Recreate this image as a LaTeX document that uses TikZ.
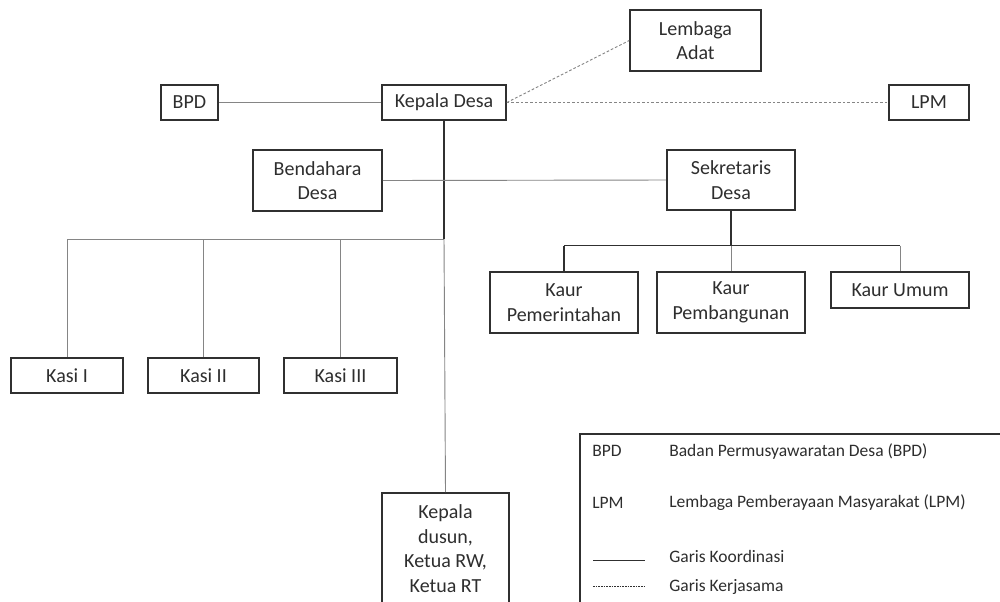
\documentclass[tikz,border=0pt]{standalone}
\usepackage{fontspec}
\setmainfont{Carlito}
\definecolor{txt}{HTML}{2E2E2E}
\definecolor{bord}{HTML}{303030}
\definecolor{lgray}{HTML}{858585}
\begin{document}
\begin{tikzpicture}[x=0.6pt,y=-0.6pt,
  box/.style={draw=bord,line width=0.95pt,fill=white,inner sep=0pt,align=center,text=txt,
    font=\fontsize{12}{14.7}\selectfont},
  lnthin/.style={draw=lgray,line width=0.55pt},
  lnthick/.style={draw=bord,line width=0.9pt},
  dashln/.style={draw=lgray,line width=0.55pt,dash pattern=on 1.6pt off 1.2pt},
  leg/.style={anchor=west,inner sep=0pt,text=txt,font=\fontsize{10.5}{12}\selectfont}]
\useasboundingbox (0,0) rectangle (1000,601);
\fill[white] (0,0) rectangle (1000,601);
% nodes
\node[box,minimum width=34.2pt,minimum height=21pt] (bpd) at (189.5,102.5) {BPD};
\node[box,minimum width=74.4pt,minimum height=21pt] (kades) at (444,102.5) {Kepala Desa};
\node[box,minimum width=78.6pt,minimum height=36.6pt] (adat) at (695.5,40.5) {Lembaga\\Adat};
\node[box,minimum width=48pt,minimum height=21pt] (lpm) at (929,102.5) {LPM};
\node[box,minimum width=77.4pt,minimum height=36.6pt] (bend) at (317.5,180.5) {Bendahara\\Desa};
\node[box,minimum width=76.8pt,minimum height=36pt] (sek) at (731,180) {Sekretaris\\Desa};
\node[box,minimum width=67.2pt,minimum height=21pt] (k1) at (67,375.5) {Kasi I};
\node[box,minimum width=66.6pt,minimum height=21pt] (k2) at (203.5,375.5) {Kasi II};
\node[box,minimum width=67.8pt,minimum height=21pt] (k3) at (340.5,375.5) {Kasi III};
\node[box,minimum width=88.8pt,minimum height=36.6pt] (kpem) at (564,302.5) {Kaur\\Pemerintahan};
\node[box,minimum width=88.8pt,minimum height=36.6pt] (kpbg) at (731,302.5) {Kaur\\Pembangunan};
\node[box,minimum width=82.8pt,minimum height=21.6pt] (kum) at (900,290) {Kaur Umum};
\node[box,minimum width=76.2pt,minimum height=66.6pt] (dusun) at (445.5,548.5) {Kepala\\dusun,\\Ketua RW,\\Ketua RT};
% junctions
\coordinate (j1) at (444,239);
\coordinate (j2) at (731,245.7);
% connectors
\draw[lnthin] (bpd) -- (kades);
\draw[dashln] (kades.east) -- (lpm.west);
\draw[dashln] (kades.east) -- (adat.west);
\draw[lnthick] (kades.south) -- (j1);
\draw[lnthin] (j1) -| (k1.north);
\draw[lnthin] (j1 -| k2.north) -- (k2.north);
\draw[lnthin] (j1 -| k3.north) -- (k3.north);
\draw[lnthin] (j1) -- (dusun.north);
\draw[lnthin] (bend.east) -- (sek.west);
\draw[lnthick] (sek.south) -- (j2);
\draw[lnthick] (j2 -| kpem.north) -- (j2 -| kum.north);
\draw[lnthick] (j2 -| kpem.north) -- (kpem.north);
\draw[lnthin] (j2) -- (kpbg.north);
\draw[lnthin] (j2 -| kum.north) -- (kum.north);
% legend
\draw[lnthick,fill=white] (580,434) rectangle (1010,620);
\node[leg] (l1) at (592,451) {BPD};
\node[leg] (l1t) at (669,451) {Badan Permusyawaratan Desa (BPD)};
\node[leg] (l2) at (592,503) {LPM};
\node[leg] (l2t) at (669,503) {Lembaga Pemberayaan Masyarakat (LPM)};
\coordinate (s1) at (593,560);
\coordinate (s2) at (645,560);
\draw[draw=bord,line width=0.6pt] (s1) -- (s2);
\node[leg] (l3t) at (669,556) {Garis Koordinasi};
\coordinate (d1) at (593,586);
\coordinate (d2) at (645,586);
\draw[draw=bord,line width=0.5pt,dash pattern=on 0.9pt off 0.7pt] (d1) -- (d2);
\node[leg] (l4t) at (669,587) {Garis Kerjasama};
\end{tikzpicture}
\end{document}
